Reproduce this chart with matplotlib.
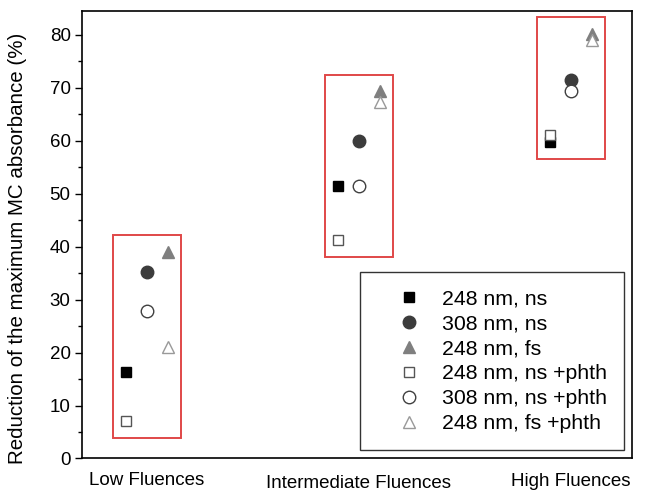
import matplotlib
matplotlib.use("Agg")
import matplotlib.pyplot as plt
from matplotlib.patches import Rectangle
from matplotlib.ticker import MultipleLocator
from matplotlib.transforms import blended_transform_factory

plt.rcParams['font.family'] = ['Liberation Sans', 'DejaVu Sans']

groups = ["Low Fluences", "Intermediate Fluences", "High Fluences"]
group_x = [1, 2, 3]

sq_248_ns = [16.3, 51.4, 59.8]
ci_308_ns = [35.3, 59.9, 71.5]
tr_248_fs = [39.0, 69.3, 80.2]
sq_248_ns_phth = [7.0, 41.3, 61.0]
ci_308_ns_phth = [27.8, 51.4, 69.3]
tr_248_fs_phth = [21.1, 67.3, 79.0]

series = [
    ("248 nm, ns", sq_248_ns, -0.1, dict(marker="s", ms=7, mfc="black", mec="black")),
    ("308 nm, ns", ci_308_ns, 0.0, dict(marker="o", ms=9, mfc="#3c3c3c", mec="#3c3c3c")),
    ("248 nm, fs", tr_248_fs, 0.1, dict(marker="^", ms=9, mfc="#7f7f7f", mec="#7f7f7f")),
    ("248 nm, ns +phth", sq_248_ns_phth, -0.1, dict(marker="s", ms=7, mfc="white", mec="#555555")),
    ("308 nm, ns +phth", ci_308_ns_phth, 0.0, dict(marker="o", ms=9, mfc="white", mec="#404040")),
    ("248 nm, fs +phth", tr_248_fs_phth, 0.1, dict(marker="^", ms=9, mfc="white", mec="#999999")),
]

fig = plt.figure(figsize=(6.48, 4.91), dpi=100)
ax = fig.add_axes([0.1273, 0.0662, 0.848, 0.9114])

for label, vals, off, style in series:
    ax.plot([g + off for g in group_x], vals, linestyle="none", mew=1.0, label=label, **style)

# red boxes around each fluence group
for i, g in enumerate(group_x):
    col = [s[1][i] for s in series]
    lo, hi = min(col) - 3.2, max(col) + 3.2
    ax.add_patch(Rectangle((g - 0.16, lo), 0.32, hi - lo, fill=False,
                           edgecolor="#e04848", lw=1.4, zorder=1))

ax.set_xlim(0.696, 3.288)
ax.set_ylim(0, 84.5)
ax.yaxis.set_major_locator(MultipleLocator(10))
ax.yaxis.set_minor_locator(MultipleLocator(5))
ax.tick_params(axis="y", which="major", direction="out", length=5, width=1, labelsize=13.5)
ax.tick_params(axis="y", which="minor", direction="out", length=3, width=1)
ax.set_xticks([])
for sp in ax.spines.values():
    sp.set_linewidth(1.2)

ax.set_ylabel("Reduction of the maximum MC absorbance (%)", fontsize=14.8)
ax.yaxis.set_label_coords(-0.101, 0.47)

trans = blended_transform_factory(ax.transData, ax.transAxes)
label_y = [-0.05, -0.056, -0.051]
for g, name, ly in zip(group_x, groups, label_y):
    ax.text(g, ly, name, transform=trans, ha="center", va="center", fontsize=13.5)

leg = ax.legend(loc="lower right", bbox_to_anchor=(0.9854, 0.019), borderaxespad=0,
                fontsize=15.3, frameon=True, fancybox=False, edgecolor="black",
                labelspacing=0.28, borderpad=0.8, handletextpad=0.05, handlelength=3.0,
                numpoints=1)
leg.get_frame().set_linewidth(1.0)

fig.savefig("out.png", dpi=100)
